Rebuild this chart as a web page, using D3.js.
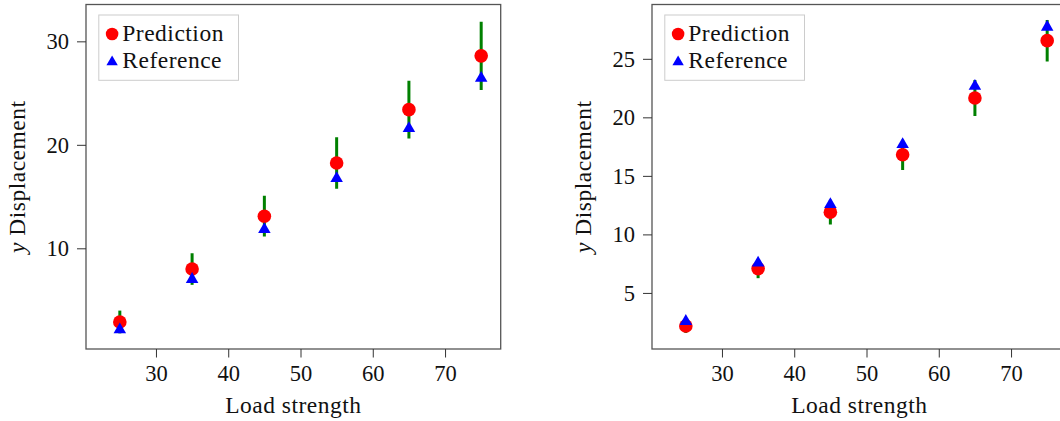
<!DOCTYPE html>
<html>
<head>
<meta charset="utf-8">
<script src="https://cdn.jsdelivr.net/npm/d3@7"></script>
<style>
  html, body { margin: 0; padding: 0; background: #fff; overflow: hidden; }
  svg { display: block; }
  text { font-family: "Liberation Serif", "Times New Roman", serif; fill: #111; }
</style>
</head>
<body>
<svg id="chart" width="1060" height="421"></svg>
<script>
// ---- data ----
const loads = [25, 35, 45, 55, 65, 75];
const xTicks = [30, 40, 50, 60, 70];

const predLeft = [2.88, 8.0, 13.1, 18.25, 23.4, 28.6];
const refLeft  = [2.13, 7.0, 11.83, 16.75, 21.58, 26.44];
const errLeft  = [1.1, 1.53, 1.97, 2.49, 2.8, 3.3];
const yTicksLeft = [10, 20, 30];

const predRight = [2.18, 7.08, 11.9, 16.8, 21.65, 26.55];
const refRight  = [2.58, 7.56, 12.56, 17.68, 22.66, 27.71];
const errRight  = [0.6, 0.82, 1.05, 1.29, 1.54, 1.77];
const yTicksRight = [5, 10, 15, 20, 25];

const seriesNames = ["Prediction", "Reference"];
const xLabel = "Load strength";

// ---- layout ----
const svg = d3.select("#chart");
const TICKFONT = 22.5;
const FONT = 23.5;
const plotW = 414.7, plotTop = 4.5, plotBottom = 349;
const xDomain = [20.32, 77.7];

function drawPanel(left, pred, ref, err, yDomain, yTicks) {
  const g = svg.append("g");
  const x = d3.scaleLinear().domain(xDomain).range([left, left + plotW]);
  const y = d3.scaleLinear().domain(yDomain).range([plotBottom, plotTop]);

  // frame
  g.append("rect")
    .attr("x", left).attr("y", plotTop)
    .attr("width", plotW).attr("height", plotBottom - plotTop)
    .attr("fill", "none").attr("stroke", "#555").attr("stroke-width", 1.3);

  // x axis
  const xa = g.append("g").attr("transform", `translate(0,${plotBottom})`)
    .call(d3.axisBottom(x).tickValues(xTicks).tickSize(8.5).tickPadding(8).tickSizeOuter(0));
  xa.select(".domain").remove();
  xa.selectAll(".tick line").attr("stroke", "#333").attr("stroke-width", 1);
  xa.selectAll(".tick text").attr("font-size", TICKFONT).attr("font-family", "Liberation Serif").attr("fill", "#111");

  // y axis
  const ya = g.append("g").attr("transform", `translate(${left},0)`)
    .call(d3.axisLeft(y).tickValues(yTicks).tickSize(9).tickPadding(8).tickSizeOuter(0));
  ya.select(".domain").remove();
  ya.selectAll(".tick line").attr("stroke", "#333").attr("stroke-width", 1);
  ya.selectAll(".tick text").attr("font-size", TICKFONT).attr("font-family", "Liberation Serif").attr("fill", "#111");

  // axis labels
  g.append("text")
    .attr("x", left + plotW / 2).attr("y", 413)
    .attr("text-anchor", "middle").attr("font-size", FONT)
    .attr("letter-spacing", 0.5)
    .text(xLabel);
  const yl = g.append("text")
    .attr("transform", `translate(${left - 61},${(plotTop + plotBottom) / 2}) rotate(-90)`)
    .attr("text-anchor", "middle").attr("font-size", FONT)
    .attr("letter-spacing", 0.5);
  yl.append("tspan").attr("font-style", "italic").text("y");
  yl.append("tspan").text(" Displacement");

  // data layer
  const pts = loads.map((l, i) => ({ l, p: pred[i], r: ref[i], e: err[i] }));
  const clip = "clip" + Math.round(left);
  svg.append("clipPath").attr("id", clip).append("rect")
    .attr("x", left).attr("y", plotTop).attr("width", plotW).attr("height", plotBottom - plotTop);
  const dg = g.append("g").attr("clip-path", `url(#${clip})`);

  dg.selectAll(".err").data(pts).enter().append("line")
    .attr("x1", d => x(d.l)).attr("x2", d => x(d.l))
    .attr("y1", d => y(d.p - d.e)).attr("y2", d => y(d.p + d.e))
    .attr("stroke", "#008000").attr("stroke-width", 3);

  dg.selectAll(".pred").data(pts).enter().append("circle")
    .attr("cx", d => x(d.l)).attr("cy", d => y(d.p)).attr("r", 6.8)
    .attr("fill", "#ff0000");

  const tri = d3.symbol().type(d3.symbolTriangle).size(68);
  dg.selectAll(".ref").data(pts).enter().append("path")
    .attr("d", tri)
    .attr("transform", d => `translate(${x(d.l)},${y(d.r)})`)
    .attr("fill", "#0000ff");

  // legend
  const lx = left + 12.8, ly = 15;
  const lg = g.append("g");
  lg.append("rect").attr("x", lx).attr("y", ly).attr("width", 139.7).attr("height", 65.3)
    .attr("fill", "#fff").attr("stroke", "#cccccc").attr("stroke-width", 1);
  lg.append("circle").attr("cx", lx + 13.3).attr("cy", ly + 19).attr("r", 6.3).attr("fill", "#ff0000");
  lg.append("path").attr("d", d3.symbol().type(d3.symbolTriangle).size(56))
    .attr("transform", `translate(${lx + 13.3},${ly + 47})`).attr("fill", "#0000ff");
  lg.append("text").attr("x", lx + 23.5).attr("y", ly + 25.5).attr("font-size", FONT)
    .attr("letter-spacing", 0.5).text(seriesNames[0]);
  lg.append("text").attr("x", lx + 23.5).attr("y", ly + 52.5).attr("font-size", FONT)
    .attr("letter-spacing", 0.5).text(seriesNames[1]);
}

drawPanel(86, predLeft, refLeft, errLeft, [0.27, 33.56], yTicksLeft);
drawPanel(652, predRight, refRight, errRight, [0.21, 29.64], yTicksRight);
</script>
</body>
</html>
